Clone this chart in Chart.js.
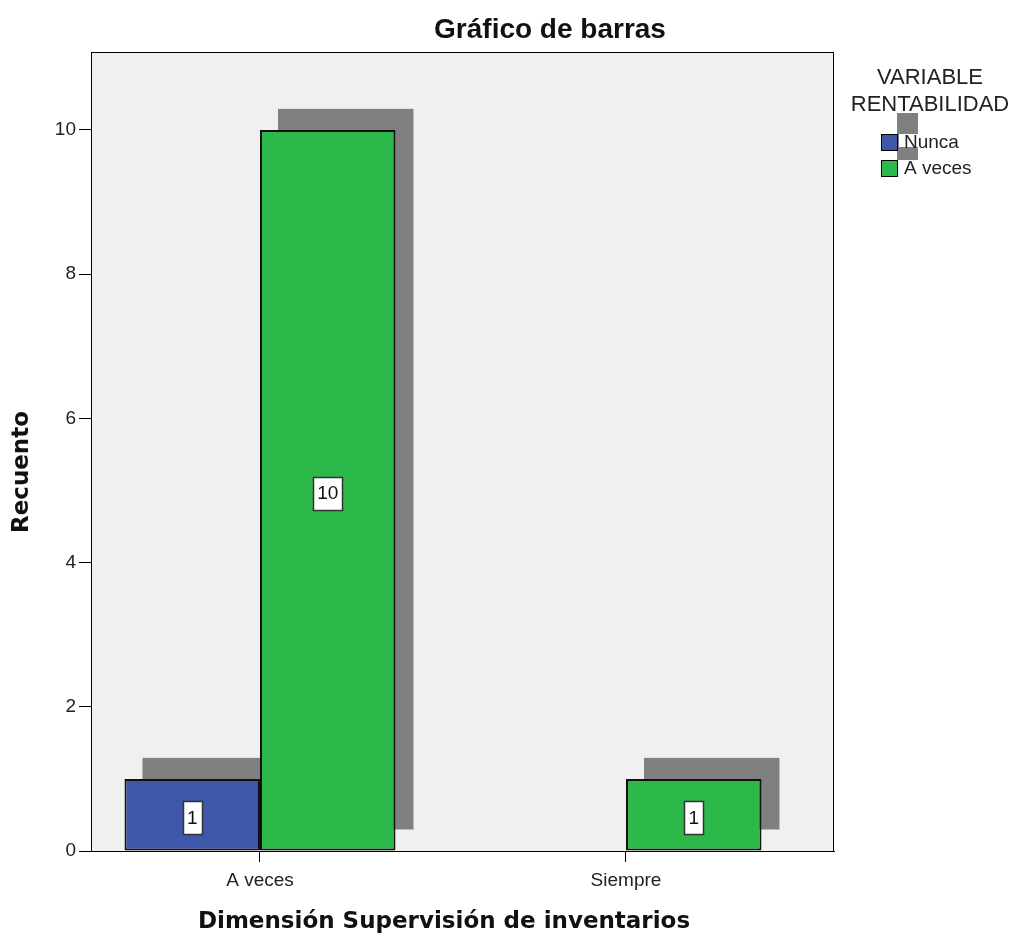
<!DOCTYPE html>
<html>
<head>
<meta charset="utf-8">
<script src="https://cdn.jsdelivr.net/npm/chart.js@4/dist/chart.umd.min.js"></script>
<style>
  body { margin: 0; background: #fff; }
  canvas { display: block; }
</style>
</head>
<body>
<canvas id="grafico_barras" width="1016" height="941"></canvas>
<script>
let ctx = document.getElementById('grafico_barras')

// Datos del gráfico
const categorias = ['A veces', 'Siempre']
const nunca = [1, null]
const aVeces = [10, 1]
const ticksY = [0, 2, 4, 6, 8, 10]

const titulo = 'Gráfico de barras'
const tituloX = 'Dimensión Supervisión de inventarios'
const tituloY = 'Recuento'
const tituloLeyenda = ['VARIABLE', 'RENTABILIDAD']

const azul = '#3e57aa'
const verde = '#2db84a'
const sombra = '#808080'

Chart.defaults.font.family = '"Liberation Sans", Arial, sans-serif'
Chart.defaults.color = '#222'

const puntos = serie => serie.map((v, i) => ({ x: i, y: v }))

const data = {
  datasets: [
    { label: 'Nunca', data: puntos(nunca), backgroundColor: azul },
    { label: 'A veces', data: puntos(aVeces), backgroundColor: verde }
  ]
}

// fondo gris del área, sombras de barras, marco, etiquetas, leyenda y títulos
const estiloSpss = {
  id: 'estiloSpss',
  beforeDraw(chart) {
    const { ctx: c, chartArea: a } = chart
    c.save()
    c.fillStyle = '#f0f0f0'
    c.fillRect(a.left, a.top, a.right - a.left, a.bottom - a.top)
    c.restore()
  },
  beforeDatasetsDraw(chart) {
    const c = chart.ctx
    c.save()
    c.fillStyle = sombra
    chart.data.datasets.forEach((ds, i) => {
      chart.getDatasetMeta(i).data.forEach((bar, j) => {
        if (ds.data[j].y == null) return
        const p = bar.getProps(['x', 'y', 'base', 'width'], true)
        c.fillRect(p.x - p.width / 2 + 18, p.y - 21, p.width, p.base - p.y)
      })
    })
    c.restore()
  },
  afterDatasetsDraw(chart) {
    const { ctx: c, chartArea: a } = chart
    c.save()
    c.strokeStyle = '#000'
    c.lineWidth = 1
    c.strokeRect(a.left + 0.5, a.top + 0.5, a.right - a.left - 1, a.bottom - a.top)

    // etiquetas de valor
    c.font = '19px "Liberation Sans", Arial, sans-serif'
    c.textAlign = 'center'
    c.textBaseline = 'middle'
    chart.data.datasets.forEach((ds, i) => {
      chart.getDatasetMeta(i).data.forEach((bar, j) => {
        const v = ds.data[j].y
        if (v == null) return
        const p = bar.getProps(['x', 'y', 'base'], true)
        const cy = (p.y + p.base) / 2 + 3
        const txt = String(v)
        const w = Math.round(c.measureText(txt).width + 8)
        const h = 33
        const bx = Math.round(p.x - w / 2) + 0.5
        const by = Math.round(cy - h / 2) + 0.5
        c.fillStyle = '#fff'
        c.fillRect(bx, by, w, h)
        c.strokeStyle = '#333'
        c.lineWidth = 1.5
        c.strokeRect(bx, by, w, h)
        c.fillStyle = '#111'
        c.fillText(txt, p.x, cy + 1)
      })
    })
    c.restore()
  },
  afterDraw(chart) {
    const c = chart.ctx
    c.save()
    c.fillStyle = '#111'
    c.textAlign = 'center'
    c.textBaseline = 'middle'
    c.font = 'bold 28px "Liberation Sans", Arial, sans-serif'
    c.fillText(titulo, 550, 30)
    c.font = 'bold 23px "DejaVu Sans", sans-serif'
    c.fillText(tituloX, 444, 922)
    c.save()
    c.translate(22, 472)
    c.rotate(-Math.PI / 2)
    c.fillText(tituloY, 0, 0)
    c.restore()

    // leyenda
    c.fillStyle = '#222'
    c.font = '22px "Liberation Sans", Arial, sans-serif'
    tituloLeyenda.forEach((t, i) => c.fillText(t, 930, 78 + i * 27))
    c.fillStyle = sombra
    c.fillRect(897, 113, 21, 47)
    c.textAlign = 'left'
    c.font = '19px "Liberation Sans", Arial, sans-serif'
    chart.data.datasets.forEach((ds, i) => {
      const y = 134 + i * 26
      const tw = c.measureText(ds.label).width
      c.fillStyle = '#fff'
      c.fillRect(899, y, tw + 6, 13)
      c.fillStyle = ds.backgroundColor
      c.fillRect(881, y, 16, 16)
      c.strokeStyle = '#000'
      c.lineWidth = 1
      c.strokeRect(881.5, y + 0.5, 16, 16)
      c.fillStyle = '#222'
      c.fillText(ds.label, 904, y + 9)
    })
    c.restore()
  }
}

const config = {
  type: 'bar',
  data,
  options: {
    responsive: false,
    animation: false,
    layout: { padding: { top: 52, right: 182, left: 0, bottom: 0 } },
    datasets: {
      bar: {
        borderColor: '#111',
        borderWidth: 2,
        borderSkipped: false,
        categoryPercentage: 0.7404,
        barPercentage: 1
      }
    },
    plugins: {
      legend: { display: false },
      tooltip: { enabled: false }
    },
    scales: {
      x: {
        type: 'linear',
        offset: false,
        min: -0.4617,
        max: 1.5683,
        afterBuildTicks: s => { s.ticks = categorias.map((c, i) => ({ value: i })) },
        afterFit: s => { s.height = 90 },
        ticks: {
          callback: (v, i) => categorias[i],
          font: { size: 19 },
          color: '#222',
          padding: 7,
          maxRotation: 0,
          autoSkip: false
        },
        grid: { offset: false, drawOnChartArea: false, drawTicks: true, tickLength: 11, color: '#000' },
        border: { display: true, color: '#000' }
      },
      y: {
        min: 0,
        max: 11.08,
        afterBuildTicks: s => { s.ticks = ticksY.map(v => ({ value: v })) },
        afterFit: s => { s.width = 91 },
        ticks: { font: { size: 19 }, color: '#222', padding: 3 },
        grid: { drawOnChartArea: false, drawTicks: true, tickLength: 12, color: '#000' },
        border: { display: true, color: '#000' }
      }
    }
  },
  plugins: [estiloSpss]
}

const graph = new Chart(ctx, config)
</script>
</body>
</html>
